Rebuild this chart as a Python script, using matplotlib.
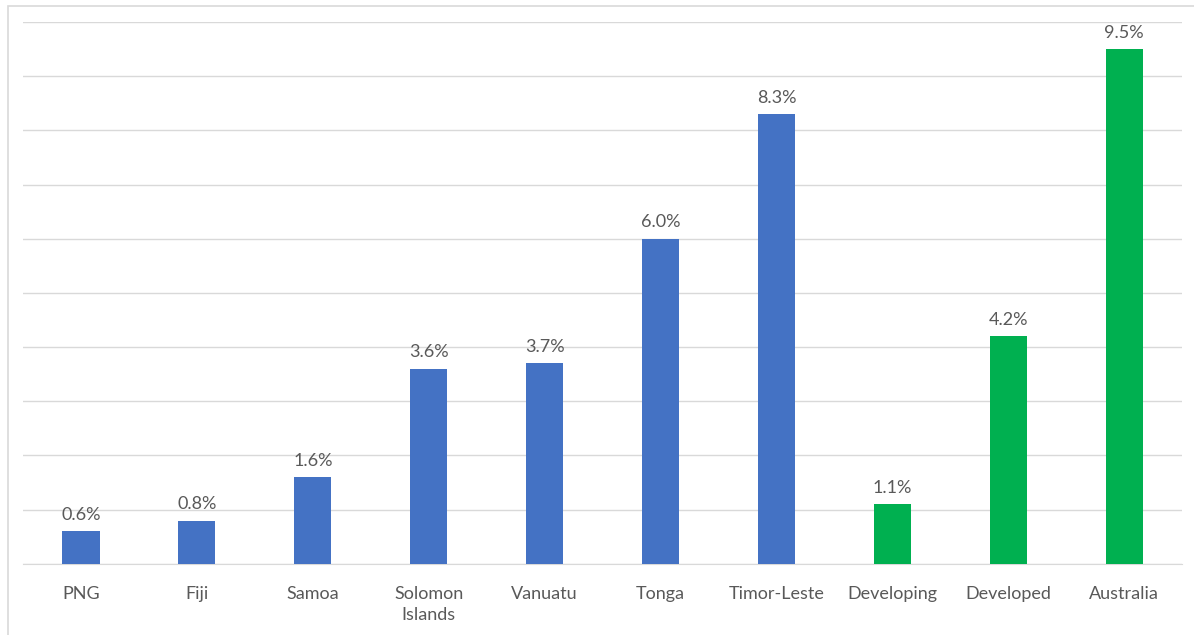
import matplotlib.pyplot as plt
from matplotlib.patches import Rectangle

# categories and values (%)
countries = ["PNG", "Fiji", "Samoa", "Solomon\nIslands", "Vanuatu", "Tonga",
             "Timor-Leste", "Developing", "Developed", "Australia"]
values = [0.6, 0.8, 1.6, 3.6, 3.7, 6.0, 8.3, 1.1, 4.2, 9.5]
groups = ["pacific"] * 7 + ["benchmark"] * 3

colours = {"pacific": "#4472C4", "benchmark": "#00B050"}
text_col = "#595959"

plt.rcParams['font.family'] = ['Lato', 'DejaVu Sans']

fig = plt.figure(figsize=(11.94, 6.35), dpi=100)
ax = fig.add_axes([0.0193, 0.112, 0.9707, 0.8534])

x = range(len(countries))
bars = ax.bar(x, values, width=0.32, color=[colours[g] for g in groups], zorder=3)

for b, v in zip(bars, values):
    ax.annotate(f"{v:.1f}%", (b.get_x() + b.get_width() / 2, v),
                xytext=(0, 6), textcoords="offset points",
                ha="center", va="bottom", fontsize=13, color=text_col)

ax.set_xlim(-0.5, len(countries) - 0.5)
ax.set_ylim(0, 10)
ax.set_yticks(range(0, 11))
ax.yaxis.grid(True, color="#D9D9D9", linewidth=1)
ax.set_yticklabels([])
ax.tick_params(axis="y", length=0)
ax.set_xticks(list(x))
ax.set_xticklabels(countries, fontsize=13, color=text_col, linespacing=1.35)
ax.tick_params(axis="x", length=0, pad=16)

for s in ["top", "right", "left"]:
    ax.spines[s].set_visible(False)
ax.spines["bottom"].set_color("#D9D9D9")

# outer chart frame
fig.patches.append(Rectangle((8 / 1194, -0.1), 1.2, 1 - 6 / 635 + 0.1,
                             transform=fig.transFigure, fill=False,
                             edgecolor="#D9D9D9", linewidth=1.2))

fig.savefig("out.png", dpi=100)
